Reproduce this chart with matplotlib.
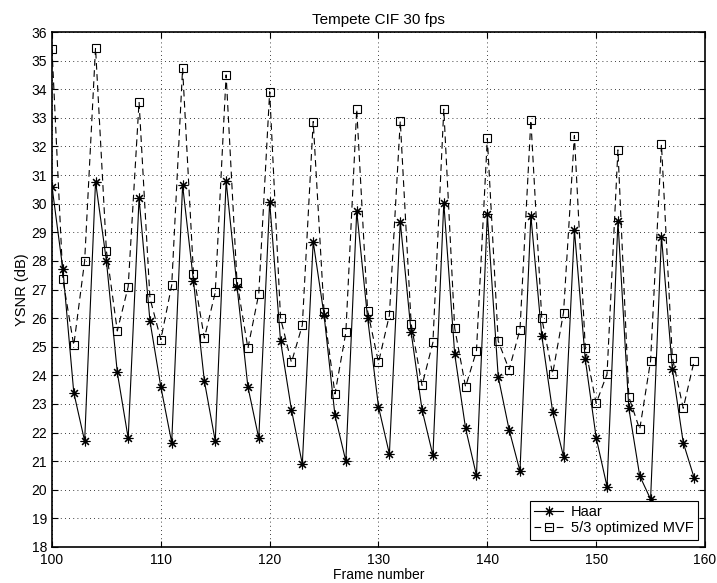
import numpy as np
import matplotlib
matplotlib.use('Agg')
import matplotlib.pyplot as plt

plt.rcParams['font.family'] = ['Liberation Sans', 'DejaVu Sans']

# ------------- data -------------
frames = np.arange(100, 160)

haar = [30.6, 27.7, 23.4, 21.7, 30.77, 28.0, 24.1, 21.8, 30.19, 25.9,
        23.6, 21.65, 30.65, 27.3, 23.8, 21.7, 30.79, 27.1, 23.6, 21.8,
        30.07, 25.2, 22.8, 20.9, 28.67, 26.1, 22.6, 21.0, 29.74, 26.0,
        22.9, 21.25, 29.37, 25.5, 22.8, 21.2, 30.03, 24.75, 22.15, 20.5,
        29.63, 23.95, 22.1, 20.65, 29.58, 25.39, 22.73, 21.16, 29.08, 24.56,
        21.82, 20.11, 29.39, 22.85, 20.49, 19.67, 28.85, 24.23, 21.65, 20.42]

mvf = [35.4, 27.35, 25.05, 28.0, 35.45, 28.35, 25.55, 27.1, 33.56, 26.7,
       25.25, 27.15, 34.73, 27.55, 25.3, 26.9, 34.5, 27.25, 24.95, 26.85,
       33.91, 26.0, 24.45, 25.75, 32.87, 26.2, 23.35, 25.5, 33.3, 26.25,
       24.45, 26.1, 32.89, 25.8, 23.65, 25.15, 33.3, 25.65, 23.6, 24.85,
       32.28, 25.2, 24.2, 25.6, 32.92, 26.0, 24.05, 26.19, 32.38, 24.97,
       23.02, 24.05, 31.88, 23.25, 22.11, 24.51, 32.07, 24.62, 22.85, 24.5]

labels = ['Haar', '5/3 optimized MVF']

# ------------- figure -------------
fig = plt.figure(figsize=(7.17, 5.83), dpi=100)
ax = fig.add_axes([52 / 717, 1 - 547 / 583, (705 - 52) / 717, (547 - 32) / 583])

ax.plot(frames, haar, '-', color='k', lw=0.8,
        marker=(8, 2, 0), markersize=7, markeredgewidth=0.8, label=labels[0])
ax.plot(frames, mvf, '--', color='k', lw=0.8, dashes=(6, 4),
        marker='s', markersize=6, markerfacecolor='none', markeredgewidth=0.8,
        label=labels[1])

ax.set_xlim(100, 160)
ax.set_ylim(18, 36)
ax.set_xticks(np.arange(100, 161, 10))
ax.set_yticks(np.arange(18, 37, 1))
ax.grid(True, linestyle=(0, (1, 4)), color='k', lw=0.6)
ax.tick_params(direction='in', top=True, right=True, labelsize=10, length=4, width=0.8)
ax.tick_params(axis='x', pad=4.5)
for s in ax.spines.values():
    s.set_linewidth(1.2)

ax.set_title('Tempete CIF 30 fps', fontsize=11, pad=6)
ax.set_xlabel('Frame number', fontsize=10, labelpad=0.5)
ax.set_ylabel('YSNR (dB)', fontsize=10.5, labelpad=2)

leg = ax.legend(loc='lower right', fontsize=10.5, fancybox=False, framealpha=1,
                edgecolor='k', borderpad=0.3, labelspacing=0.15, handlelength=2,
                handletextpad=0.5, borderaxespad=0.5)
leg.get_frame().set_linewidth(0.8)

fig.savefig('out.png', dpi=100)
